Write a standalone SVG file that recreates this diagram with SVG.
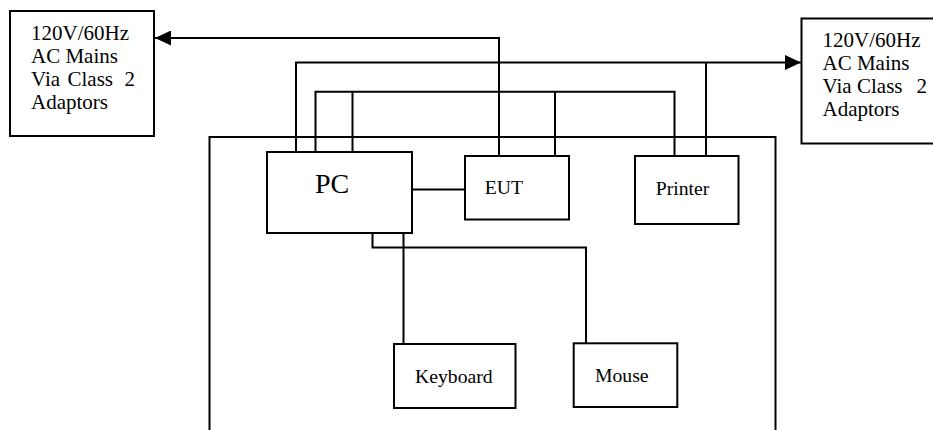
<svg xmlns="http://www.w3.org/2000/svg" width="933" height="430" viewBox="0 0 933 430">
<style>
.box{fill:#fff;stroke:#000;stroke-width:2}
.ln{fill:none;stroke:#000;stroke-width:2}
.t{font-family:"Liberation Serif","Times New Roman",serif;font-size:19.7px;fill:#000}
.ac{font-size:21px}
.big{font-size:28px}
</style>
<defs>
<marker id="ah" markerUnits="userSpaceOnUse" viewBox="0 0 16 15" refX="16" refY="7.5" markerWidth="16" markerHeight="15" orient="auto">
<path d="M0,0 L16,7.5 L0,15 Z" fill="#000"/>
</marker>
</defs>
<g id="enclosure">
<path class="ln" d="M209.5,440 V137 H775.5 V440"/>
</g>
<g id="connectors">
<path class="ln" d="M499,156 V38 H155" marker-end="url(#ah)"/>
<path class="ln" d="M296,152 V62.5 H801" marker-end="url(#ah)"/>
<path class="ln" d="M706,156 V62.5"/>
<path class="ln" d="M315.5,152 V91.7 H674.5 V156"/>
<path class="ln" d="M352.5,152 V91.7"/>
<path class="ln" d="M555,156 V91.7"/>
<path class="ln" d="M412,189.5 H465"/>
<path class="ln" d="M372.5,233 V247.5 H586 V343.5"/>
<path class="ln" d="M403.5,233 V344"/>
</g>
<g id="mains-left">
<rect class="box" x="10" y="11" width="144" height="125"/>
<text class="t ac" x="31" y="40">120V/60Hz</text>
<text class="t ac" x="31" y="63">AC Mains</text>
<text class="t ac" y="86"><tspan x="31">Via</tspan><tspan x="67.5">Class</tspan><tspan x="124.5">2</tspan></text>
<text class="t ac" x="31" y="109">Adaptors</text>
</g>
<g id="mains-right">
<rect class="box" x="801.5" y="18.5" width="145" height="125"/>
<text class="t ac" x="822.5" y="47">120V/60Hz</text>
<text class="t ac" x="822.5" y="70">AC Mains</text>
<text class="t ac" y="93"><tspan x="822.5">Via</tspan><tspan x="857">Class</tspan><tspan x="916.5">2</tspan></text>
<text class="t ac" x="822.5" y="115.5">Adaptors</text>
</g>
<g id="pc">
<rect class="box" x="267" y="152" width="145" height="81"/>
<text class="t big" x="315" y="193">PC</text>
</g>
<g id="eut">
<rect class="box" x="465" y="156" width="104" height="63.5"/>
<text class="t" x="484.7" y="194">EUT</text>
</g>
<g id="printer">
<rect class="box" x="635" y="156" width="103.5" height="68"/>
<text class="t" x="655.7" y="195">Printer</text>
</g>
<g id="keyboard">
<rect class="box" x="394" y="344" width="121.5" height="64"/>
<text class="t" x="415" y="383">Keyboard</text>
</g>
<g id="mouse">
<rect class="box" x="573.7" y="343.3" width="103.6" height="63.7"/>
<text class="t" x="595" y="382.3">Mouse</text>
</g>
</svg>
